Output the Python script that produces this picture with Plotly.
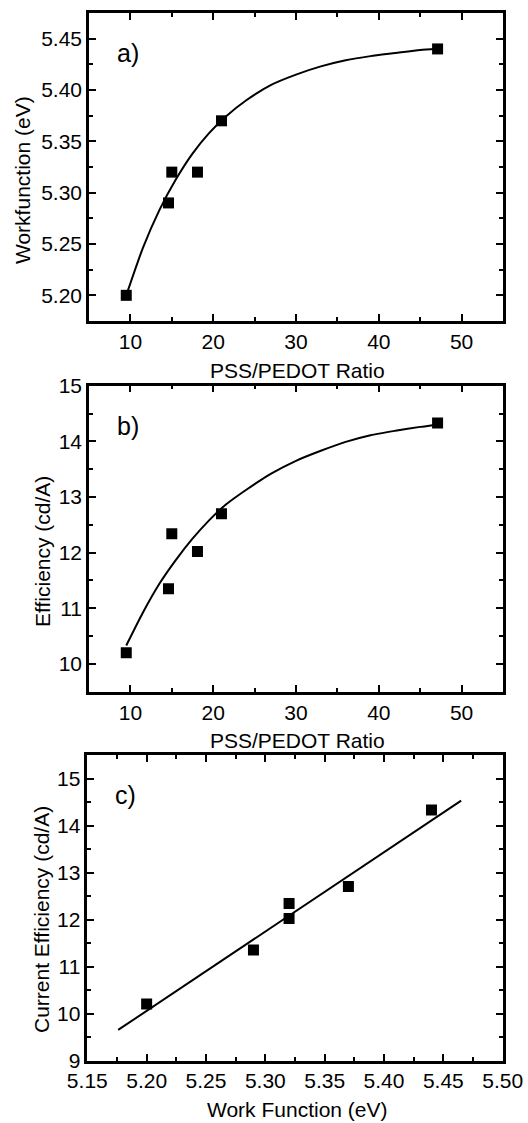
import plotly.graph_objects as go

# ---- data ----
ratio = [9.5, 14.6, 15.0, 18.1, 21.0, 47.1]
workfunction = [5.20, 5.29, 5.32, 5.32, 5.37, 5.44]
efficiency = [10.20, 11.35, 12.34, 12.02, 12.70, 14.33]

# fitted curves
fit_x = [9.5, 11.5, 13.5, 15.5, 17.5, 19.5, 21.5, 24, 27, 30, 33, 36, 39, 42, 45, 47]
fit_wf = [5.200, 5.246, 5.283, 5.313, 5.338, 5.358, 5.374, 5.390, 5.405,
          5.415, 5.423, 5.429, 5.433, 5.436, 5.439, 5.440]
fit_eff = [10.33, 10.92, 11.44, 11.87, 12.25, 12.58, 12.86, 13.13, 13.42,
           13.65, 13.83, 13.99, 14.11, 14.19, 14.26, 14.30]

# linear fit in panel c (end points)
lin_x = [5.176, 5.465]
lin_y = [9.65, 14.53]

panel_labels = ["a)", "b)", "c)"]
x_titles = ["PSS/PEDOT Ratio", "PSS/PEDOT Ratio", "Work Function (eV)"]
y_titles = ["Workfunction (eV)", "Efficiency (cd/A)", "Current Efficiency (cd/A)"]

FONT = "Liberation Sans, Arial, sans-serif"
W, H = 528, 1123

fig = go.Figure()

mk = dict(symbol="square", size=11, color="black")
ln = dict(color="black", width=2)

fig.add_trace(go.Scatter(x=fit_x, y=fit_wf, mode="lines",
                         line=dict(shape="spline", smoothing=0.6, **ln),
                         xaxis="x", yaxis="y", showlegend=False))
fig.add_trace(go.Scatter(x=ratio, y=workfunction, mode="markers", marker=mk,
                         xaxis="x", yaxis="y", showlegend=False))
fig.add_trace(go.Scatter(x=fit_x, y=fit_eff, mode="lines",
                         line=dict(shape="spline", smoothing=0.6, **ln),
                         xaxis="x2", yaxis="y2", showlegend=False))
fig.add_trace(go.Scatter(x=ratio, y=efficiency, mode="markers", marker=mk,
                         xaxis="x2", yaxis="y2", showlegend=False))
fig.add_trace(go.Scatter(x=lin_x, y=lin_y, mode="lines", line=ln,
                         xaxis="x3", yaxis="y3", showlegend=False))
fig.add_trace(go.Scatter(x=workfunction, y=efficiency, mode="markers", marker=mk,
                         xaxis="x3", yaxis="y3", showlegend=False))


def ax(domain, rng, dtick, minor_dtick, anchor, fmt=None):
    d = dict(domain=domain, range=rng, dtick=dtick, tick0=0, anchor=anchor,
             automargin=False,
             showgrid=False, zeroline=False, showline=True, linecolor="black",
             linewidth=2.5, mirror="ticks", ticks="inside", ticklen=7,
             tickwidth=2, tickcolor="black",
             minor=dict(dtick=minor_dtick, ticks="inside", ticklen=4,
                        tickwidth=2, tickcolor="black", showgrid=False),
             tickfont=dict(family=FONT, size=21, color="black"))
    if fmt:
        d["tickformat"] = fmt
    return d


xa = [89 / W, 503 / W]
xc = [87.3 / W, 502.7 / W]
ya = [1 - 321 / H, 1 - 13 / H]
yb = [1 - 691.7 / H, 1 - 385.7 / H]
yc = [1 - 1060.5 / H, 1 - 755 / H]

fig.update_layout(
    width=W, height=H,
    margin=dict(l=0, r=0, t=0, b=0, autoexpand=False),
    paper_bgcolor="white", plot_bgcolor="white",
    xaxis=ax(xa, [5, 55], 10, 5, "y"),
    yaxis=ax(ya, [5.175, 5.475], 0.05, 0.025, "x", fmt=".2f"),
    xaxis2=ax(xa, [5, 55], 10, 5, "y2"),
    yaxis2=ax(yb, [9.5, 15], 1, 0.5, "x2"),
    xaxis3=ax(xc, [5.15, 5.50], 0.05, 0.025, "y3", fmt=".2f"),
    yaxis3=ax(yc, [9, 15.5], 1, 0.5, "x3"),
)

# panel letters
for lab, yd, xd in zip(panel_labels, [ya, yb, yc], [xa, xa, xc]):
    fig.add_annotation(text=lab, xref="paper", yref="paper",
                       x=xd[0] + 26 / W, y=yd[1] - 40 / H,
                       xanchor="left", yanchor="middle", showarrow=False,
                       font=dict(family=FONT, size=25, color="black"))

# axis titles (pixel centres measured on the reference)
xt_pos = [(297, 370), (297, 740), (297, 1109)]
yt_pos = [(23, 180), (42, 552), (41, 920)]
for t, (px, py) in zip(x_titles, xt_pos):
    fig.add_annotation(text=t, xref="paper", yref="paper", x=px / W, y=1 - py / H,
                       xanchor="center", yanchor="middle", showarrow=False,
                       font=dict(family=FONT, size=21, color="black"))
for t, (px, py) in zip(y_titles, yt_pos):
    fig.add_annotation(text=t, xref="paper", yref="paper", x=px / W, y=1 - py / H,
                       xanchor="center", yanchor="middle", showarrow=False,
                       textangle=-90,
                       font=dict(family=FONT, size=21, color="black"))

fig.write_html("out.html",
               config={"displayModeBar": False},
               post_script="document.body.style.margin='0';document.body.style.overflow='hidden';")
